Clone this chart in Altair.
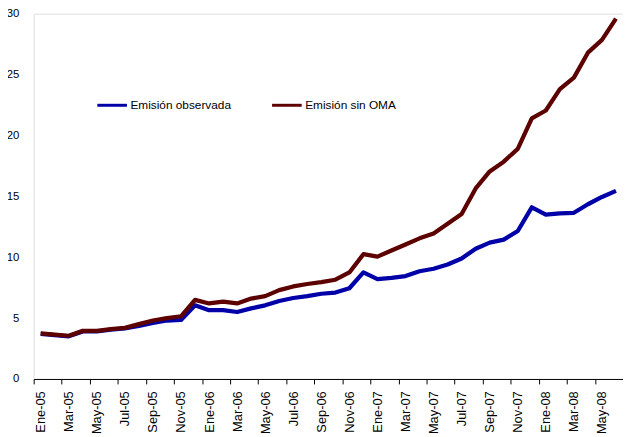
import altair as alt
import pandas as pd

months = [
    "Ene-05", "Feb-05", "Mar-05", "Abr-05", "May-05", "Jun-05", "Jul-05", "Ago-05", "Sep-05", "Oct-05", "Nov-05", "Dic-05",
    "Ene-06", "Feb-06", "Mar-06", "Abr-06", "May-06", "Jun-06", "Jul-06", "Ago-06", "Sep-06", "Oct-06", "Nov-06", "Dic-06",
    "Ene-07", "Feb-07", "Mar-07", "Abr-07", "May-07", "Jun-07", "Jul-07", "Ago-07", "Sep-07", "Oct-07", "Nov-07", "Dic-07",
    "Ene-08", "Feb-08", "Mar-08", "Abr-08", "May-08", "Jun-08",
]

emision_observada = [
    3.7, 3.6, 3.5, 3.9, 3.9, 4.05, 4.15, 4.35, 4.6, 4.8, 4.85, 6.05,
    5.65, 5.65, 5.5, 5.8, 6.05, 6.4, 6.65, 6.8, 7.0, 7.1, 7.45, 8.75,
    8.2, 8.3, 8.45, 8.85, 9.05, 9.4, 9.9, 10.7, 11.2, 11.45, 12.15, 14.1,
    13.5, 13.6, 13.65, 14.35, 14.95, 15.45,
]

emision_sin_oma = [
    3.75, 3.65, 3.55, 3.95, 3.95, 4.1, 4.2, 4.5, 4.8, 5.0, 5.15, 6.5,
    6.2, 6.35, 6.2, 6.6, 6.8, 7.3, 7.6, 7.8, 7.95, 8.15, 8.75, 10.25,
    10.05, 10.55, 11.05, 11.55, 11.95, 12.75, 13.55, 15.65, 17.05, 17.85, 18.9, 21.4,
    22.05, 23.8, 24.75, 26.8, 27.85, 29.6,
]

series_names = ["Emisión observada", "Emisión sin OMA"]
series_colors = ["#0000A8", "#5C0000"]
y_ticks = [0, 5, 10, 15, 20, 25, 30]

rows = []
for i, m in enumerate(months):
    rows.append({"idx": i, "mes": m, "serie": series_names[0], "valor": emision_observada[i]})
    rows.append({"idx": i, "mes": m, "serie": series_names[1], "valor": emision_sin_oma[i]})
df = pd.DataFrame(rows)

n = len(months)
# axis ticks sit on category boundaries before every second month
tick_values = [i - 0.5 for i in range(0, n + 1, 2)]

W, H = 597, 370
step = W / n
xscale = alt.Scale(domain=[-0.5, n - 0.5], nice=False, zero=False)

labels_js = "[" + ",".join("'" + m + "'" for m in months) + "]"
label_expr = (
    f"(datum.value + 0.5) < {n} ? {labels_js}[datum.value + 0.5] : ''"
)

chart = alt.Chart(df).mark_line(strokeWidth=4.3, strokeJoin="round").encode(
    x=alt.X(
        "idx:Q",
        scale=xscale,
        axis=alt.Axis(
            values=tick_values,
            labelExpr=label_expr,
            labelAngle=-90,
            labelAlign="right",
            labelBaseline="middle",
            labelOffset=step / 2,
            labelPadding=7,
            labelFontSize=13,
            labelFont="Liberation Sans",
            labelColor="black",
            labelOverlap=False,
            labelFlush=False,
            ticks=True,
            tickSize=5,
            tickColor="black",
            tickWidth=1,
            grid=False,
            domain=True,
            domainColor="black",
            domainWidth=1,
            title=None,
        ),
    ),
    y=alt.Y(
        "valor:Q",
        scale=alt.Scale(domain=[0, 30], nice=False),
        axis=alt.Axis(
            values=y_ticks,
            ticks=False,
            domain=False,
            grid=False,
            labelPadding=15,
            labelFontSize=11.5,
            labelFont="Liberation Sans",
            labelColor="black",
            title=None,
        ),
    ),
    color=alt.Color(
        "serie:N",
        scale=alt.Scale(domain=series_names, range=series_colors),
        legend=alt.Legend(
            orient="none",
            legendX=63,
            legendY=76,
            direction="horizontal",
            title=None,
            symbolType="stroke",
            symbolSize=900,
            symbolStrokeWidth=3,
            labelFontSize=12,
            labelFont="Liberation Sans",
            labelColor="black",
            labelOffset=2,
            columnPadding=34,
            padding=0,
        ),
    ),
    order=alt.Order("idx:Q"),
).properties(
    width=W,
    height=H,
    autosize=alt.AutoSizeParams(type="none"),
    padding={"left": 26, "top": 3, "right": 0, "bottom": 56},
).configure_view(stroke=None).configure(background="white")

chart.save("out.html", embed_options={"renderer": "svg", "actions": False})
